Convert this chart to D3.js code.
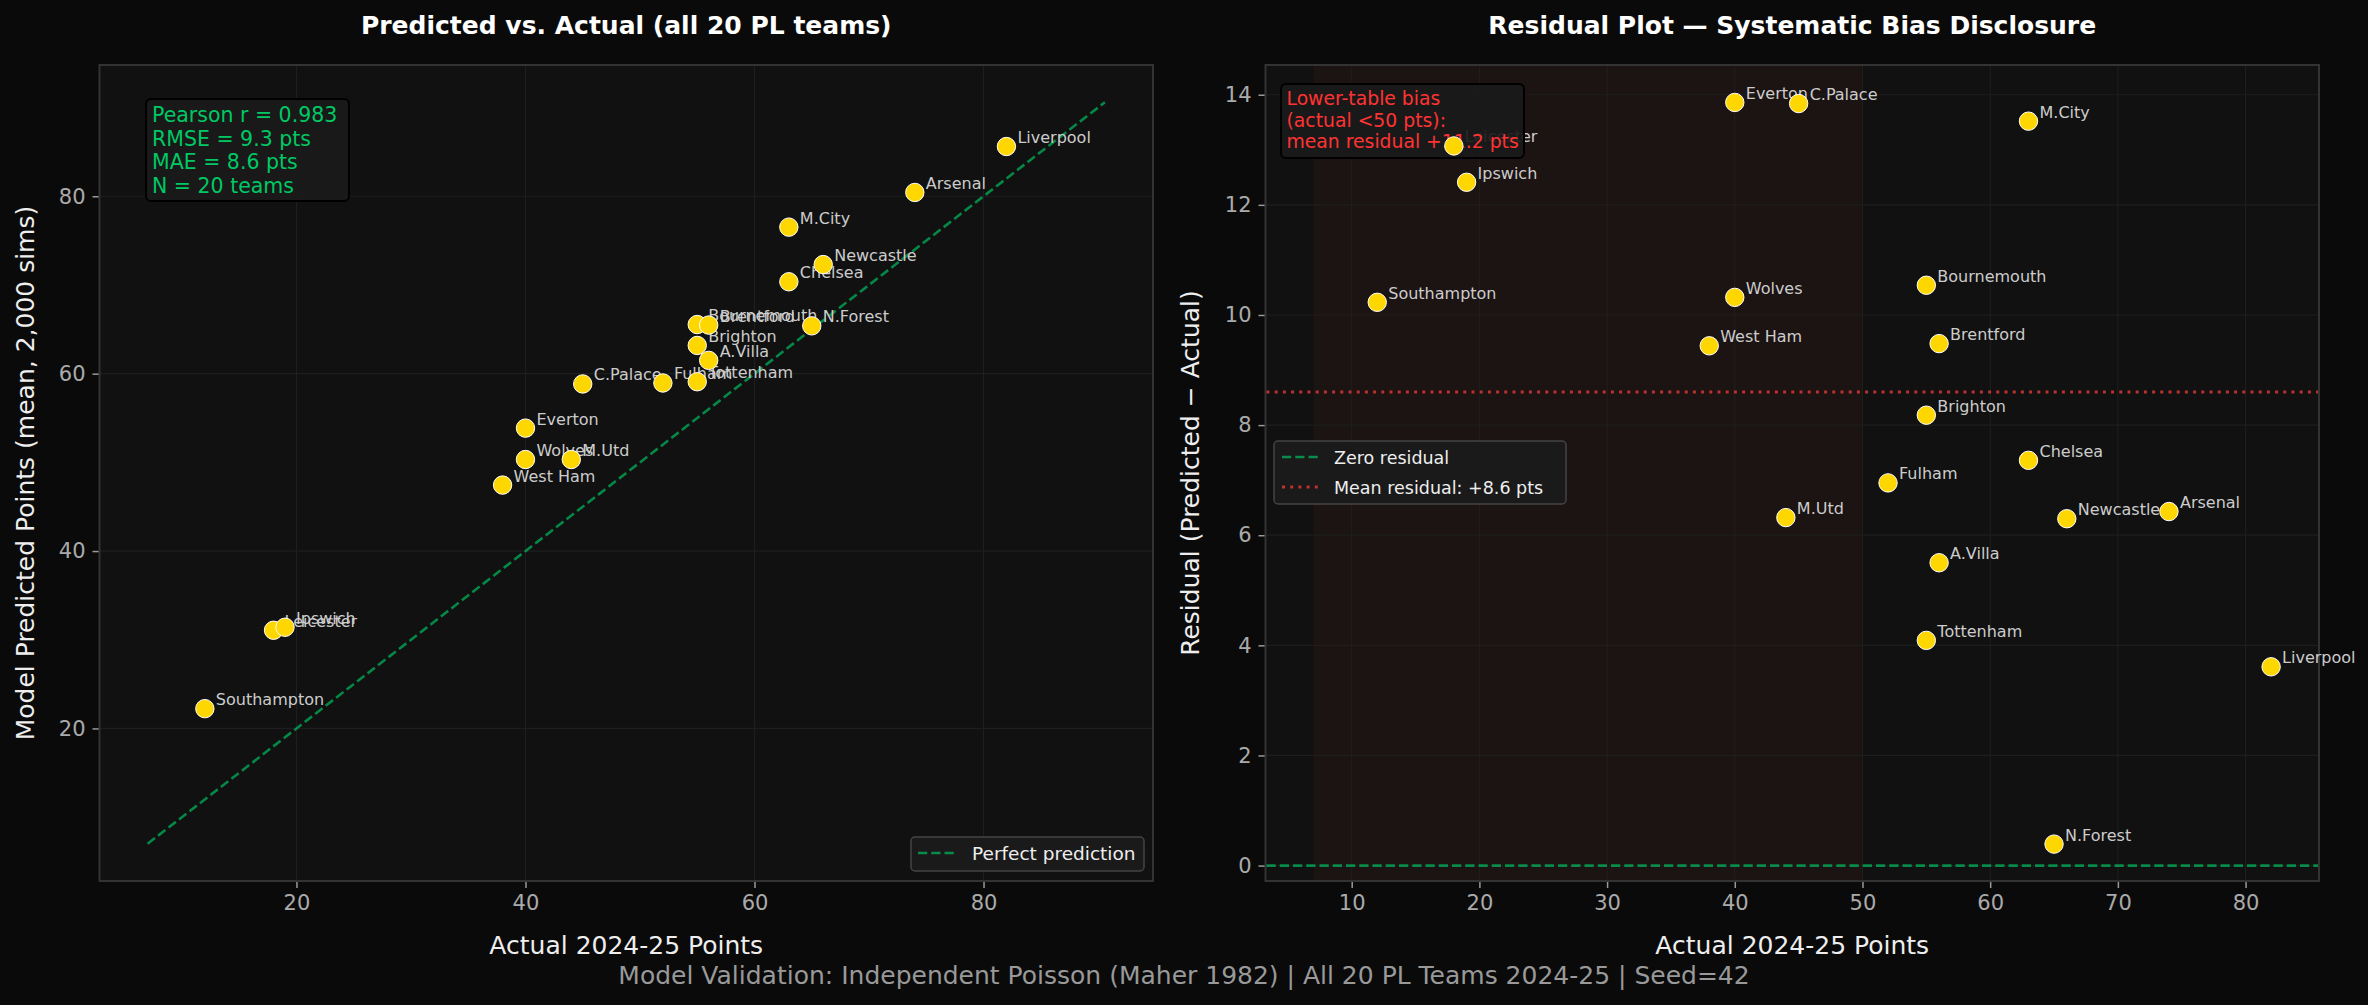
<!DOCTYPE html>
<html>
<head>
<meta charset="utf-8">
<script src="https://cdn.jsdelivr.net/npm/d3@7"></script>
<style>
  body { margin: 0; background: #0a0a0a; }
  svg { display: block; font-family: "DejaVu Sans", sans-serif; }
</style>
</head>
<body>
<div id="chart"></div>
<script>
// data
const teams = ["Liverpool", "Arsenal", "M.City", "Chelsea", "Newcastle", "N.Forest",
  "Bournemouth", "Brentford", "Brighton", "A.Villa", "Fulham", "Tottenham",
  "C.Palace", "Everton", "Wolves", "M.Utd", "West Ham", "Leicester", "Ipswich", "Southampton"];
const actualPts = [82, 74, 63, 63, 66, 65, 55, 56, 55, 56, 52, 55, 45, 40, 40, 44, 38, 18, 19, 12];
const predictedPts = [85.61, 80.43, 76.52, 70.36, 72.30, 65.39, 65.54, 65.48, 63.18, 61.50,
  58.95, 59.09, 58.84, 53.86, 50.32, 50.32, 47.44, 31.07, 31.41, 22.23];

const leftTicks = [20, 40, 60, 80];
const rightXTicks = [10, 20, 30, 40, 50, 60, 70, 80];
const rightYTicks = [0, 2, 4, 6, 8, 10, 12, 14];
const perfectLine = [7, 90.6];
const biasSpan = [7, 50];

const statsLines = ["Pearson r = 0.983", "RMSE = 9.3 pts", "MAE = 8.6 pts", "N = 20 teams"];
const biasLines = ["Lower-table bias", "(actual <50 pts):", "mean residual +11.2 pts"];
const meanResidual = 8.6;

const W = 2368, H = 1005;
const GREEN = "#00c864", RED = "#e53935", GOLD = "#ffd700";

const svg = d3.select("#chart").append("svg")
    .attr("width", W)
    .attr("height", H);
svg.append("rect").attr("width", W).attr("height", H).attr("fill", "#0a0a0a");

const pts = teams.map((t, i) => ({
  team: t, actual: actualPts[i], pred: predictedPts[i], resid: predictedPts[i] - actualPts[i]
}));

// shared panel frame: background, grid, ticks
function panel(x, y, xTicks, yTicks, title, xLabel, yLabel, yLabelX) {
  const [x0, x1] = x.range(), [y0, y1] = y.range();
  const g = svg.append("g");
  g.append("rect")
      .attr("x", x0).attr("y", y1)
      .attr("width", x1 - x0).attr("height", y0 - y1)
      .attr("fill", "#111111");
  const under = g.append("g");

  g.selectAll(".gx").data(xTicks).enter().append("line")
      .attr("x1", d => x(d)).attr("x2", d => x(d))
      .attr("y1", y1).attr("y2", y0)
      .attr("stroke", "#1e1e1e").attr("stroke-width", 1.2);
  g.selectAll(".gy").data(yTicks).enter().append("line")
      .attr("y1", d => y(d)).attr("y2", d => y(d))
      .attr("x1", x0).attr("x2", x1)
      .attr("stroke", "#1e1e1e").attr("stroke-width", 1.2);

  const ax = g.append("g")
      .attr("transform", `translate(0,${y0})`)
      .call(d3.axisBottom(x).tickValues(xTicks).tickSize(7).tickPadding(7));
  const ay = g.append("g")
      .attr("transform", `translate(${x0},0)`)
      .call(d3.axisLeft(y).tickValues(yTicks).tickSize(7).tickPadding(7));
  [ax, ay].forEach(a => {
    a.select(".domain").remove();
    a.selectAll("line").attr("stroke", "#999").attr("stroke-width", 1.5);
    a.selectAll("text").attr("fill", "#aaaaaa").style("font-size", "21px")
        .style("font-family", "DejaVu Sans");
  });

  g.append("rect")
      .attr("x", x0).attr("y", y1)
      .attr("width", x1 - x0).attr("height", y0 - y1)
      .attr("fill", "none").attr("stroke", "#333").attr("stroke-width", 2);
  const over = g.append("g");

  svg.append("text")
      .attr("x", (x0 + x1) / 2).attr("y", 34)
      .attr("text-anchor", "middle")
      .attr("fill", "#ffffff").style("font-size", "25px").style("font-weight", "bold")
      .text(title);
  svg.append("text")
      .attr("x", (x0 + x1) / 2).attr("y", 954)
      .attr("text-anchor", "middle")
      .attr("fill", "#eeeeee").style("font-size", "25px")
      .text(xLabel);
  svg.append("text")
      .attr("transform", `translate(${yLabelX},${(y0 + y1) / 2}) rotate(-90)`)
      .attr("text-anchor", "middle").attr("dominant-baseline", "central")
      .attr("fill", "#eeeeee").style("font-size", "25px")
      .text(yLabel);
  return { g, under, over };
}

function labels(sel, data, x, y, yKey) {
  sel.selectAll(".lbl").data(data).enter().append("text")
      .attr("x", d => x(d.actual) + 11)
      .attr("y", d => y(d[yKey]) - 3.5)
      .attr("fill", "#cccccc").style("font-size", "16px")
      .text(d => d.team);
}

function dots(sel, data, x, y, yKey) {
  sel.selectAll(".dot").data(data).enter().append("circle")
      .attr("cx", d => x(d.actual))
      .attr("cy", d => y(d[yKey]))
      .attr("r", 9.2)
      .attr("fill", GOLD).attr("stroke", "#ffffff").attr("stroke-width", 1);
}

function textBox(sel, lines, bx, by, bw, bh, tx, ty0, dy, size, color, edge) {
  sel.append("rect")
      .attr("x", bx).attr("y", by).attr("width", bw).attr("height", bh)
      .attr("rx", 5)
      .attr("fill", "#1a1a1a").attr("fill-opacity", 0.92)
      .attr("stroke", edge).attr("stroke-width", 2);
  sel.selectAll(null).data(lines).enter().append("text")
      .attr("x", tx).attr("y", (d, i) => ty0 + i * dy)
      .attr("fill", color).style("font-size", size + "px")
      .text(d => d);
}

function dashed(sel, x1, y1, x2, y2) {
  sel.append("line")
      .attr("x1", x1).attr("y1", y1).attr("x2", x2).attr("y2", y2)
      .attr("stroke", GREEN).attr("stroke-opacity", 0.65)
      .attr("stroke-width", 2.6).attr("stroke-dasharray", "9.25,4");
}

function dotted(sel, x1, y1, x2, y2) {
  sel.append("line")
      .attr("x1", x1).attr("y1", y1).attr("x2", x2).attr("y2", y2)
      .attr("stroke", RED).attr("stroke-opacity", 0.8)
      .attr("stroke-width", 3).attr("stroke-dasharray", "3,5.2");
}

// ---- left: predicted vs actual
const xL = d3.scaleLinear().domain([2.8, 94.8]).range([99.5, 1153]);
const yL = d3.scaleLinear().domain([2.8, 94.8]).range([881, 65]);
const left = panel(xL, yL, leftTicks, leftTicks,
  "Predicted vs. Actual (all 20 PL teams)", "Actual 2024-25 Points",
  "Model Predicted Points (mean, 2,000 sims)", 25);

dashed(left.over, xL(perfectLine[0]), yL(perfectLine[0]), xL(perfectLine[1]), yL(perfectLine[1]));
labels(left.over, pts, xL, yL, "pred");
dots(left.over, pts, xL, yL, "pred");
textBox(left.over, statsLines, 146, 99, 203, 102, 152, 122, 23.5, 20.5, GREEN, "#000");

// legend
const lg = left.over.append("g");
lg.append("rect").attr("x", 911).attr("y", 837).attr("width", 233).attr("height", 34)
    .attr("rx", 4).attr("fill", "#1a1a1a").attr("stroke", "#444").attr("stroke-width", 1.5);
dashed(lg, 918, 853, 957, 853);
lg.append("text").attr("x", 972).attr("y", 860)
    .attr("fill", "#eeeeee").style("font-size", "18.5px").text("Perfect prediction");

// ---- right: residuals
const xR = d3.scaleLinear().domain([3.25, 85.75]).range([1265.5, 2319]);
const yR = d3.scaleLinear().domain([-0.28, 14.54]).range([881, 65]);
const right = panel(xR, yR, rightXTicks, rightYTicks,
  "Residual Plot \u2014 Systematic Bias Disclosure", "Actual 2024-25 Points",
  "Residual (Predicted \u2212 Actual)", 1190);

right.under.append("rect")
    .attr("x", xR(biasSpan[0])).attr("y", 65)
    .attr("width", xR(biasSpan[1]) - xR(biasSpan[0])).attr("height", 816)
    .attr("fill", RED).attr("fill-opacity", 0.05);
dashed(right.over, 1266.5, yR(0), 2318, yR(0));
dotted(right.over, 1266.5, yR(meanResidual), 2318, yR(meanResidual));

labels(right.over, pts, xR, yR, "resid");
textBox(right.over, biasLines, 1281, 84, 243, 74, 1286.5, 105, 21.7, 18.8, "#ff3333", "#000");
dots(right.over, pts, xR, yR, "resid");

const rg = right.over.append("g");
rg.append("rect").attr("x", 1274).attr("y", 441).attr("width", 292).attr("height", 63)
    .attr("rx", 4).attr("fill", "#1a1a1a").attr("stroke", "#444").attr("stroke-width", 1.5);
dashed(rg, 1282, 457, 1320, 457);
dotted(rg, 1282, 487, 1320, 487);
rg.append("text").attr("x", 1334).attr("y", 463.5)
    .attr("fill", "#eeeeee").style("font-size", "17.5px").text("Zero residual");
rg.append("text").attr("x", 1334).attr("y", 493.5)
    .attr("fill", "#eeeeee").style("font-size", "17.5px").text("Mean residual: +8.6 pts");

// footer
svg.append("text")
    .attr("x", W / 2).attr("y", 984)
    .attr("text-anchor", "middle")
    .attr("fill", "#999999").style("font-size", "25px")
    .text("Model Validation: Independent Poisson (Maher 1982) | All 20 PL Teams 2024-25 | Seed=42");
</script>
</body>
</html>
